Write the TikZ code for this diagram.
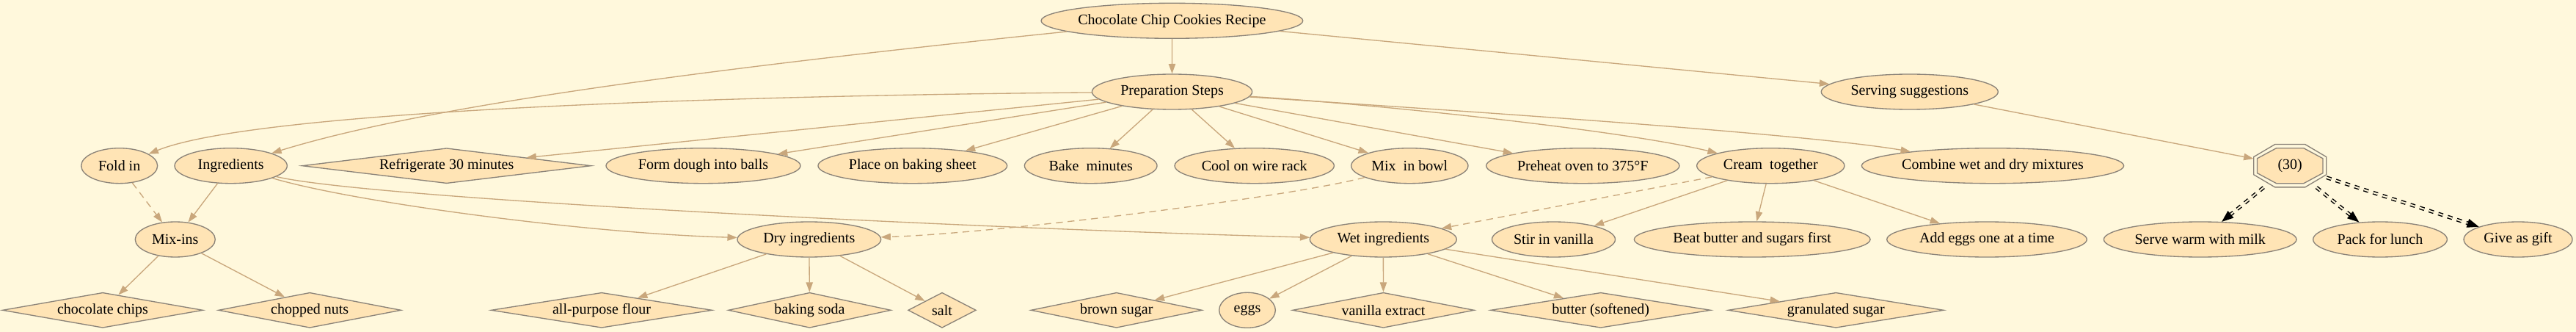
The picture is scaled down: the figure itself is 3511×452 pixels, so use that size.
\documentclass[tikz,border=0pt]{standalone}
\usepackage{fontspec}
\setmainfont{Liberation Serif}
\usetikzlibrary{shapes.geometric,arrows.meta}
\definecolor{bgc}{HTML}{FFF8DC}
\definecolor{nfill}{HTML}{FFE4B5}
\definecolor{ndraw}{HTML}{8B8378}
\definecolor{ecol}{HTML}{C9A77C}
\newcommand\nlbl[1]{\makebox[0pt]{#1}}
\begin{document}
\begin{tikzpicture}[x=0.75pt,y=-0.75pt,
  every node/.style={font=\fontsize{15}{18}\selectfont, text=black},
  ell/.style={ellipse, draw=ndraw, fill=nfill, line width=1pt, inner sep=0pt, minimum height=36pt},
  dia/.style={diamond, draw=ndraw, fill=nfill, line width=1pt, inner sep=0pt, minimum height=36pt, shape aspect=1},
  edge/.style={draw=ecol, line width=1pt, -{Triangle[length=10pt,width=7pt]}},
  dedge/.style={edge, dash pattern=on 7pt off 5pt},
  dbl/.style={draw=black, line width=1.1pt, double=bgc, double distance=1.5pt, dash pattern=on 5pt off 5pt, -{Triangle[length=12pt,width=9pt]}}
]
\fill[bgc] (0,0) rectangle (3511,452);
\useasboundingbox (0,0) rectangle (3511,452);

% rank 0 / 1
\node[ell, minimum width=267.5pt] (rec) at (1597.4,28.3) {\nlbl{Chocolate Chip Cookies Recipe}};
\node[ell, minimum width=163.7pt] (prep) at (1597.5,125) {\nlbl{Preparation Steps}};
\node[ell, minimum width=180.8pt] (serv) at (2602.8,125) {\nlbl{Serving suggestions}};

% rank 2
\node[ell, minimum width=78pt] (fold) at (162.7,225.7) {\nlbl{Fold in}};
\node[ell, minimum width=115pt] (ing) at (314.7,225.7) {\nlbl{Ingredients}};
\node[dia, minimum width=295.5pt] (refr) at (608.7,225.7) {\nlbl{Refrigerate 30 minutes}};
\node[ell, minimum width=198.8pt] (form) at (958.5,225.7) {\nlbl{Form dough into balls}};
\node[ell, minimum width=193.3pt] (place) at (1243.8,225.7) {\nlbl{Place on baking sheet}};
\node[ell, minimum width=135.5pt] (bake) at (1486.7,225.7) {\nlbl{Bake\ \ minutes}};
\node[ell, minimum width=163pt] (cool) at (1709.7,225.7) {\nlbl{Cool on wire rack}};
\node[ell, minimum width=119.5pt] (mixb) at (1921.3,225.7) {\nlbl{Mix\ \ in bowl}};
\node[ell, minimum width=197.5pt] (pre) at (2157.3,225.7) {\nlbl{Preheat oven to 375°F}};
\node[ell, minimum width=151pt] (cream) at (2413.3,225.7) {\nlbl{Cream\ \ together}};
\node[ell, minimum width=268pt] (comb) at (2716,225.7) {\nlbl{Combine wet and dry mixtures}};

% octagon (drawn shape) + node
\draw[ndraw, line width=1pt, shift={(3121.2,225.7)}]
  (49.5,-12.1) -- (20.5,-29.2) -- (-20.5,-29.2) -- (-49.5,-12.1) -- (-49.5,12.1) -- (-20.5,29.2) -- (20.5,29.2) -- (49.5,12.1) -- cycle;
\draw[ndraw, fill=nfill, line width=1pt, shift={(3121.2,225.7)}]
  (44.8,-9.9) -- (18.6,-24) -- (-18.6,-24) -- (-44.8,-9.9) -- (-44.8,9.9) -- (-18.6,24) -- (18.6,24) -- (44.8,9.9) -- cycle;
\node[rectangle, inner sep=0pt, minimum width=74.25pt, minimum height=43.8pt] (oct) at (3121.2,225.7) {\nlbl{(30)}};

% rank 3
\node[ell, minimum width=81.8pt] (mixins) at (238.8,326) {\nlbl{Mix-ins}};
\node[ell, minimum width=146.8pt] (dry) at (1102.8,326) {\nlbl{Dry ingredients}};
\node[ell, minimum width=150pt] (wet) at (1885.3,326) {\nlbl{Wet ingredients}};
\node[ell, minimum width=126pt] (stir) at (2117.5,326) {\nlbl{Stir in vanilla}};
\node[ell, minimum width=241.3pt] (beat) at (2388.2,326) {\nlbl{Beat butter and sugars first}};
\node[ell, minimum width=204.5pt] (adde) at (2708,326) {\nlbl{Add eggs one at a time}};
\node[ell, minimum width=197pt] (serve) at (2998.7,326) {\nlbl{Serve warm with milk}};
\node[ell, minimum width=137pt] (pack) at (3244,326) {\nlbl{Pack for lunch}};
\node[ell, minimum width=111pt] (gift) at (3432,326) {\nlbl{Give as gift}};

% rank 4
\node[dia, minimum width=205pt] (choc) at (140,422.3) {\nlbl{chocolate chips}};
\node[dia, minimum width=186.8pt] (nuts) at (422.2,422.3) {\nlbl{chopped nuts}};
\node[dia, minimum width=226pt] (flour) at (820,422.3) {\nlbl{all-purpose flour}};
\node[dia, minimum width=166.3pt] (soda) at (1103.5,422.3) {\nlbl{baking soda}};
\node[dia, minimum width=69.5pt] (salt) at (1284,422.3) {\nlbl{salt}};
\node[dia, minimum width=175pt] (brown) at (1521.7,422.3) {\nlbl{brown sugar}};
\node[ell, minimum width=57.5pt] (eggs) at (1700,422.3) {\nlbl{eggs}};
\node[dia, minimum width=185.8pt] (vanx) at (1885.5,422.3) {\nlbl{vanilla extract}};
\node[dia, minimum width=225pt] (butter) at (2181.7,422.3) {\nlbl{butter (softened)}};
\node[dia, minimum width=220.5pt] (gran) at (2502.3,422.3) {\nlbl{granulated sugar}};

% edges
\draw[edge] (rec) -- (prep);
\draw[edge] (rec) .. controls (900,100) and (560,150) .. (ing);
\draw[edge] (rec) -- (serv);

\draw[edge] (prep) .. controls (1000,130) and (350,150) .. (fold);
\draw[edge] (prep) -- (refr);
\draw[edge] (prep) -- (form);
\draw[edge] (prep) -- (place);
\draw[edge] (prep) -- (bake);
\draw[edge] (prep) -- (cool);
\draw[edge] (prep) -- (mixb);
\draw[edge] (prep) -- (pre);
\draw[edge] (prep) .. controls (1850,140) and (2200,175) .. (cream);
\draw[edge] (prep) .. controls (1900,145) and (2450,180) .. (comb);

\draw[edge] (serv) -- (oct);

\draw[dedge] (fold) -- (mixins);
\draw[edge] (ing) -- (mixins);
\draw[edge] (ing) .. controls (480,275) and (800,318) .. (dry);
\draw[edge] (ing) .. controls (500,270) and (1300,310) .. (wet);
\draw[dedge] (mixb) .. controls (1750,270) and (1350,318) .. (dry);
\draw[dedge] (cream) -- (wet);
\draw[edge] (cream) -- (stir);
\draw[edge] (cream) -- (beat);
\draw[edge] (cream) -- (adde);

\draw[dbl] (oct) -- (serve);
\draw[dbl] (oct) -- (pack);
\draw[dbl] (oct) -- (gift);

\draw[edge] (mixins) -- (choc);
\draw[edge] (mixins) -- (nuts);
\draw[edge] (dry) -- (flour);
\draw[edge] (dry) -- (soda);
\draw[edge] (dry) -- (salt);
\draw[edge] (wet) -- (brown);
\draw[edge] (wet) -- (eggs);
\draw[edge] (wet) -- (vanx);
\draw[edge] (wet) -- (butter);
\draw[edge] (wet) -- (gran);
\end{tikzpicture}
\end{document}
